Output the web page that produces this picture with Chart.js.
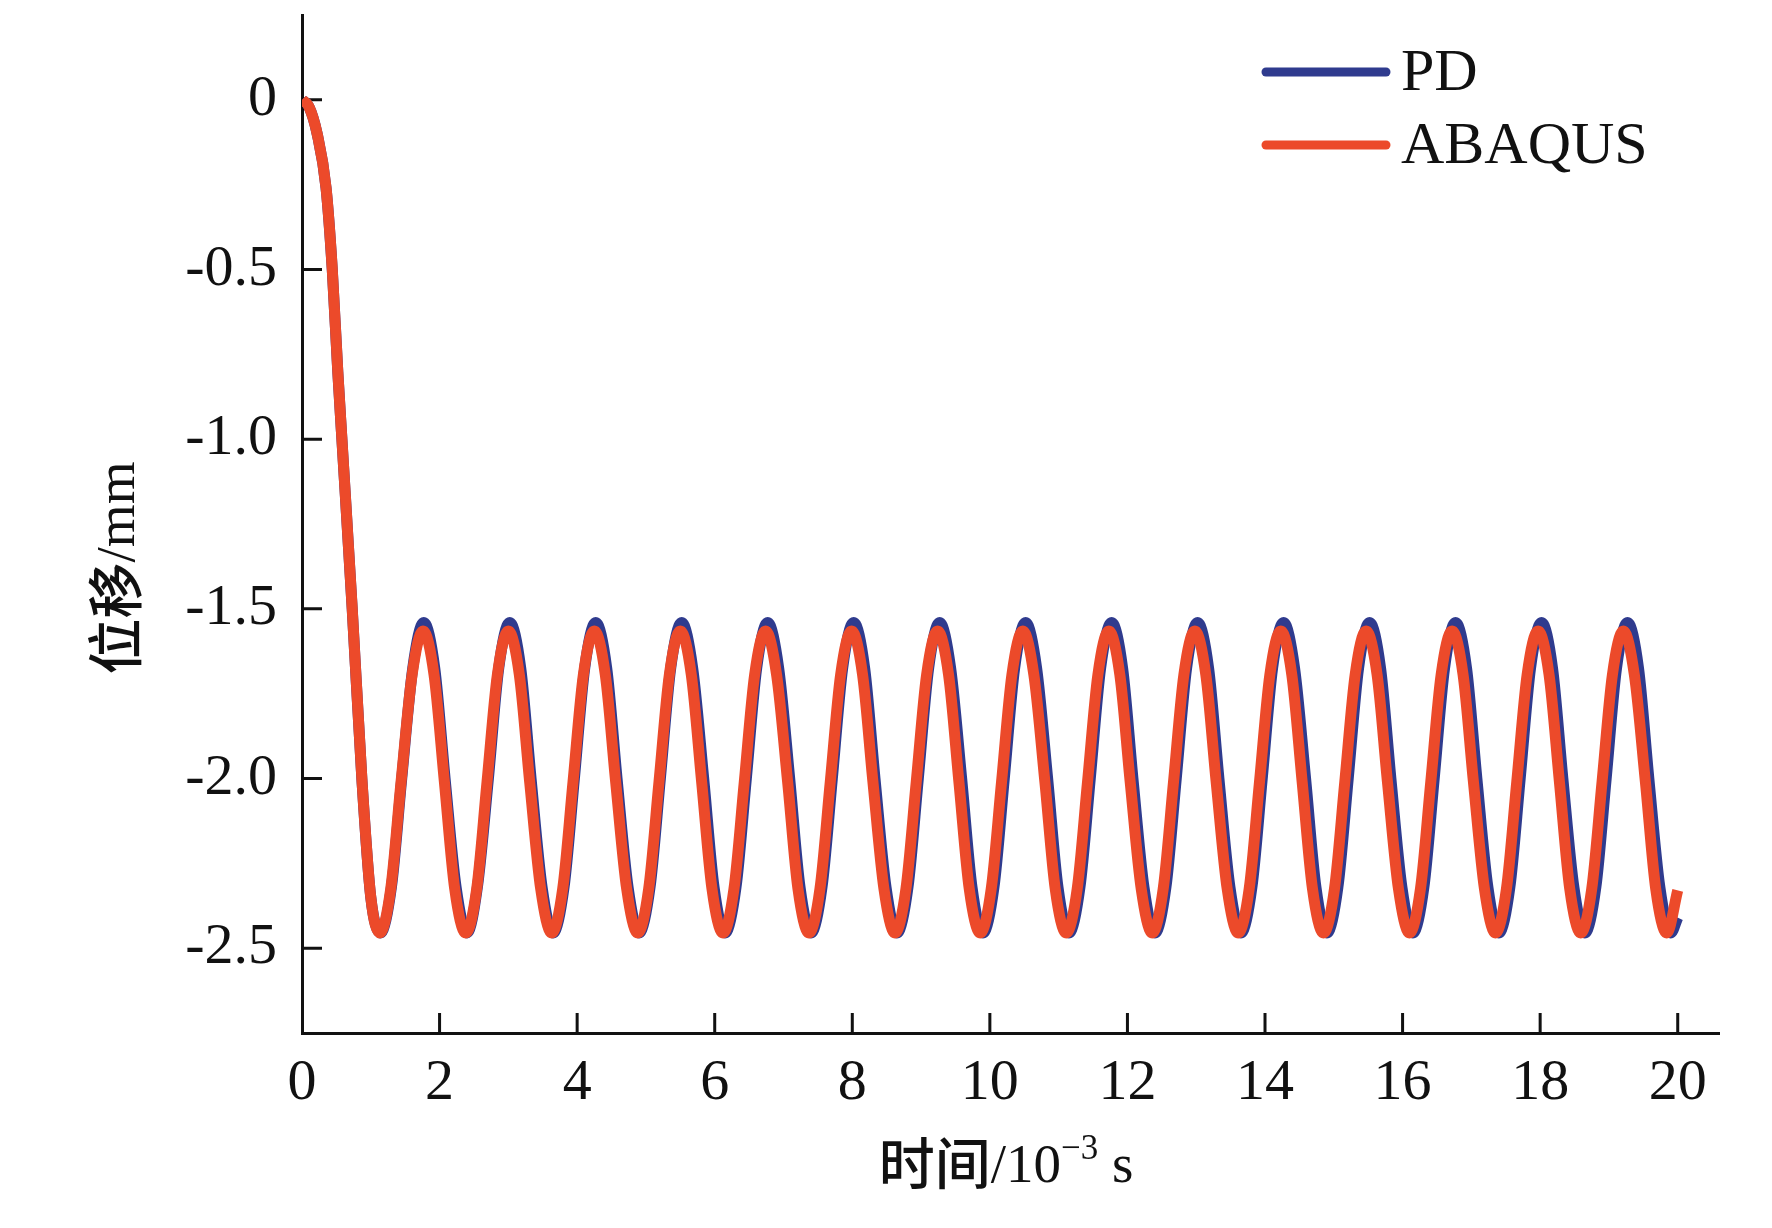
<!DOCTYPE html>
<html lang="zh">
<head>
    <meta charset="UTF-8">
    <title>位移-时间曲线</title>
    <script src="https://cdn.jsdelivr.net/npm/chart.js"></script>
    <style>
        html, body { margin: 0; padding: 0; background: #ffffff; }
        #wrap { width: 1772px; height: 1228px; }
    </style>
</head>
<body>
    <div id="wrap"><canvas id="wykres"></canvas></div>

    <script>
        // początkowy spadek (wspólny dla obu krzywych)
        const descentTime = [0, 0.1, 0.22, 0.35, 0.44, 0.52, 0.58, 0.73, 0.87, 1.0];
        const descentDisp = [0, -0.02, -0.1, -0.26, -0.5, -0.8, -1.0, -1.5, -2.0, -2.35];

        // PD: jeden wiersz = jeden okres (dolina ... szczyt ...)
        const pdTime = [
            1.14, 1.30, 1.45, 1.61, 1.77, 1.93, 2.08, 2.24,
            2.40, 2.55, 2.71, 2.86, 3.02, 3.18, 3.33, 3.49,
            3.65, 3.81, 3.96, 4.11, 4.27, 4.43, 4.58, 4.74,
            4.90, 5.06, 5.21, 5.36, 5.52, 5.68, 5.84, 5.99,
            6.15, 6.31, 6.46, 6.61, 6.77, 6.93, 7.09, 7.24,
            7.40, 7.56, 7.71, 7.86, 8.02, 8.18, 8.33, 8.49,
            8.65, 8.81, 8.96, 9.11, 9.27, 9.43, 9.59, 9.74,
            9.90, 10.06, 10.21, 10.36, 10.52, 10.68, 10.84, 10.99,
            11.15, 11.31, 11.46, 11.61, 11.77, 11.93, 12.08, 12.24,
            12.40, 12.56, 12.71, 12.86, 13.02, 13.18, 13.33, 13.49,
            13.65, 13.81, 13.96, 14.11, 14.27, 14.43, 14.59, 14.74,
            14.90, 15.06, 15.21, 15.36, 15.52, 15.68, 15.83, 15.99,
            16.15, 16.31, 16.46, 16.61, 16.77, 16.93, 17.08, 17.24,
            17.40, 17.56, 17.71, 17.86, 18.02, 18.18, 18.33, 18.49,
            18.65, 18.81, 18.96, 19.11, 19.27, 19.43, 19.58, 19.74,
            19.90, 20.00
        ];
        const pdDisp = [
            -2.455, -2.32, -2.0, -1.675, -1.54, -1.675, -2.0, -2.32,
            -2.455, -2.32, -2.0, -1.675, -1.54, -1.675, -2.0, -2.32,
            -2.455, -2.32, -2.0, -1.675, -1.54, -1.675, -2.0, -2.32,
            -2.455, -2.32, -2.0, -1.675, -1.54, -1.675, -2.0, -2.32,
            -2.455, -2.32, -2.0, -1.675, -1.54, -1.675, -2.0, -2.32,
            -2.455, -2.32, -2.0, -1.675, -1.54, -1.675, -2.0, -2.32,
            -2.455, -2.32, -2.0, -1.675, -1.54, -1.675, -2.0, -2.32,
            -2.455, -2.32, -2.0, -1.675, -1.54, -1.675, -2.0, -2.32,
            -2.455, -2.32, -2.0, -1.675, -1.54, -1.675, -2.0, -2.32,
            -2.455, -2.32, -2.0, -1.675, -1.54, -1.675, -2.0, -2.32,
            -2.455, -2.32, -2.0, -1.675, -1.54, -1.675, -2.0, -2.32,
            -2.455, -2.32, -2.0, -1.675, -1.54, -1.675, -2.0, -2.32,
            -2.455, -2.32, -2.0, -1.675, -1.54, -1.675, -2.0, -2.32,
            -2.455, -2.32, -2.0, -1.675, -1.54, -1.675, -2.0, -2.32,
            -2.455, -2.32, -2.0, -1.675, -1.54, -1.675, -2.0, -2.32,
            -2.455, -2.41
        ];

        // ABAQUS
        const abaqusTime = [
            1.13, 1.29, 1.44, 1.60, 1.76, 1.92, 2.07, 2.22,
            2.38, 2.54, 2.69, 2.84, 3.00, 3.16, 3.31, 3.47,
            3.63, 3.79, 3.94, 4.09, 4.25, 4.41, 4.56, 4.72,
            4.88, 5.04, 5.19, 5.34, 5.50, 5.66, 5.81, 5.96,
            6.12, 6.28, 6.43, 6.58, 6.74, 6.90, 7.06, 7.21,
            7.37, 7.53, 7.68, 7.83, 7.99, 8.15, 8.30, 8.46,
            8.62, 8.78, 8.93, 9.08, 9.24, 9.40, 9.55, 9.70,
            9.86, 10.02, 10.17, 10.32, 10.48, 10.64, 10.80, 10.95,
            11.11, 11.27, 11.42, 11.57, 11.73, 11.89, 12.04, 12.20,
            12.36, 12.52, 12.67, 12.82, 12.98, 13.14, 13.29, 13.45,
            13.61, 13.77, 13.92, 14.07, 14.23, 14.39, 14.54, 14.69,
            14.85, 15.01, 15.16, 15.31, 15.47, 15.63, 15.78, 15.94,
            16.10, 16.26, 16.41, 16.56, 16.72, 16.88, 17.03, 17.19,
            17.35, 17.51, 17.66, 17.81, 17.97, 18.13, 18.28, 18.43,
            18.59, 18.75, 18.90, 19.05, 19.21, 19.37, 19.53, 19.68,
            19.84, 20.00
        ];
        const abaqusDisp = [
            -2.455, -2.325, -2.01, -1.695, -1.565, -1.695, -2.01, -2.325,
            -2.455, -2.325, -2.01, -1.695, -1.565, -1.695, -2.01, -2.325,
            -2.455, -2.325, -2.01, -1.695, -1.565, -1.695, -2.01, -2.325,
            -2.455, -2.325, -2.01, -1.695, -1.565, -1.695, -2.01, -2.325,
            -2.455, -2.325, -2.01, -1.695, -1.565, -1.695, -2.01, -2.325,
            -2.455, -2.325, -2.01, -1.695, -1.565, -1.695, -2.01, -2.325,
            -2.455, -2.325, -2.01, -1.695, -1.565, -1.695, -2.01, -2.325,
            -2.455, -2.325, -2.01, -1.695, -1.565, -1.695, -2.01, -2.325,
            -2.455, -2.325, -2.01, -1.695, -1.565, -1.695, -2.01, -2.325,
            -2.455, -2.325, -2.01, -1.695, -1.565, -1.695, -2.01, -2.325,
            -2.455, -2.325, -2.01, -1.695, -1.565, -1.695, -2.01, -2.325,
            -2.455, -2.325, -2.01, -1.695, -1.565, -1.695, -2.01, -2.325,
            -2.455, -2.325, -2.01, -1.695, -1.565, -1.695, -2.01, -2.325,
            -2.455, -2.325, -2.01, -1.695, -1.565, -1.695, -2.01, -2.325,
            -2.455, -2.325, -2.01, -1.695, -1.565, -1.695, -2.01, -2.325,
            -2.455, -2.33
        ];

        const xTicks = [0, 2, 4, 6, 8, 10, 12, 14, 16, 18, 20];
        const yTicks = [-2.5, -2.0, -1.5, -1.0, -0.5, 0];
        const yTickLabels = ['-2.5', '-2.0', '-1.5', '-1.0', '-0.5', '0'];
        const seriesNames = ['PD', 'ABAQUS'];

        const kolorPD = '#2f3b8e';
        const kolorAbaqus = '#ec4a2a';
        const serif = "'Liberation Serif', 'Times New Roman', serif";

        function toPoints(t, d) {
            return t.map((v, i) => ({ x: v, y: d[i] }));
        }
        const pdPoints = toPoints(descentTime.concat(pdTime), descentDisp.concat(pdDisp));
        const abaqusPoints = toPoints(descentTime.concat(abaqusTime), descentDisp.concat(abaqusDisp));

        // znaczniki do środka, tytuły osi i legenda
        const ozdoby = {
            id: 'ozdoby',
            beforeDatasetsDraw(chart) {
                const { ctx, chartArea, scales: { x, y } } = chart;
                ctx.save();
                ctx.strokeStyle = '#111';
                ctx.lineWidth = 3;
                ctx.beginPath();
                xTicks.forEach(v => {
                    if (v === 0) return;
                    const px = x.getPixelForValue(v);
                    ctx.moveTo(px, chartArea.bottom);
                    ctx.lineTo(px, chartArea.bottom - 20);
                });
                yTicks.forEach(v => {
                    const py = y.getPixelForValue(v);
                    ctx.moveTo(chartArea.left, py);
                    ctx.lineTo(chartArea.left + 20, py);
                });
                ctx.stroke();
                ctx.restore();
            },
            afterDraw(chart) {
                const ctx = chart.ctx;
                ctx.save();
                ctx.fillStyle = '#111';

                // legenda
                const kolory = [kolorPD, kolorAbaqus];
                const legY = [72, 145];
                ctx.lineCap = 'round';
                ctx.lineWidth = 9;
                seriesNames.forEach((name, i) => {
                    ctx.strokeStyle = kolory[i];
                    ctx.beginPath();
                    ctx.moveTo(1266, legY[i]);
                    ctx.lineTo(1386, legY[i]);
                    ctx.stroke();
                    ctx.font = '60px ' + serif;
                    ctx.textBaseline = 'middle';
                    ctx.textAlign = 'left';
                    ctx.fillText(name, 1401, legY[i] + 2);
                });

                // tytuł osi X: 时间/10^-3 s
                ctx.textBaseline = 'alphabetic';
                const cjk = "500 56px 'Noto Sans CJK SC'";
                const lat = '55px ' + serif;
                const sup = '35px ' + serif;
                const parts = [
                    { t: '时间', f: cjk, dy: 2 },
                    { t: '/10', f: lat, dy: 0 },
                    { t: '\u2212' + '3', f: sup, dy: -23 },
                    { t: ' s', f: lat, dy: 0 }
                ];
                let total = 0;
                parts.forEach(p => { ctx.font = p.f; p.w = ctx.measureText(p.t).width; total += p.w; });
                let cx = 1006 - total / 2;
                parts.forEach(p => {
                    ctx.font = p.f;
                    ctx.textAlign = 'left';
                    ctx.fillText(p.t, cx, 1182 + p.dy);
                    cx += p.w;
                });

                // tytuł osi Y: 位移/mm
                ctx.translate(134, 568);
                ctx.rotate(-Math.PI / 2);
                const yparts = [
                    { t: '位移', f: cjk, dy: 2 },
                    { t: '/mm', f: lat, dy: 0 }
                ];
                total = 0;
                yparts.forEach(p => { ctx.font = p.f; p.w = ctx.measureText(p.t).width; total += p.w; });
                cx = -total / 2;
                yparts.forEach(p => {
                    ctx.font = p.f;
                    ctx.fillText(p.t, cx, p.dy);
                    cx += p.w;
                });
                ctx.restore();
            }
        };

        var wykres = new Chart(document.getElementById('wykres').getContext('2d'), {
            type: 'line',
            data: {
                datasets: [{
                    label: seriesNames[0],
                    data: pdPoints,
                    borderColor: kolorPD,
                    borderWidth: 11,
                    pointRadius: 0,
                    cubicInterpolationMode: 'monotone',
                    fill: false,
                    order: 2
                }, {
                    label: seriesNames[1],
                    data: abaqusPoints,
                    borderColor: kolorAbaqus,
                    borderWidth: 11,
                    pointRadius: 0,
                    cubicInterpolationMode: 'monotone',
                    fill: false,
                    order: 1
                }]
            },
            options: {
                responsive: true,
                maintainAspectRatio: false,
                animation: false,
                devicePixelRatio: 1,
                layout: { padding: { left: 0, top: 15, right: 53, bottom: 0 } },
                plugins: {
                    legend: { display: false },
                    tooltip: { enabled: false }
                },
                scales: {
                    x: {
                        type: 'linear',
                        min: 0,
                        max: 20.6,
                        afterBuildTicks: s => { s.ticks = xTicks.map(v => ({ value: v })); },
                        afterFit: s => {
                            s.height = 195;
                            s.paddingLeft = 0;
                            s.paddingRight = 0;
                        },
                        grid: { display: false, drawTicks: false },
                        border: { display: true, color: '#111', width: 3 },
                        ticks: {
                            autoSkip: false,
                            maxRotation: 0,
                            padding: 16,
                            color: '#111',
                            font: { family: serif, size: 58 }
                        }
                    },
                    y: {
                        type: 'linear',
                        min: -2.75,
                        max: 0.25,
                        afterBuildTicks: s => { s.ticks = yTicks.map(v => ({ value: v })); },
                        afterFit: s => {
                            s.width = 302;
                            s.paddingTop = 0;
                            s.paddingBottom = 0;
                        },
                        grid: { display: false, drawTicks: false },
                        border: { display: true, color: '#111', width: 3 },
                        ticks: {
                            autoSkip: false,
                            padding: 25,
                            color: '#111',
                            font: { family: serif, size: 58 },
                            callback: (v, i) => yTickLabels[i]
                        }
                    }
                }
            },
            plugins: [ozdoby]
        });
    </script>
</body>
</html>
